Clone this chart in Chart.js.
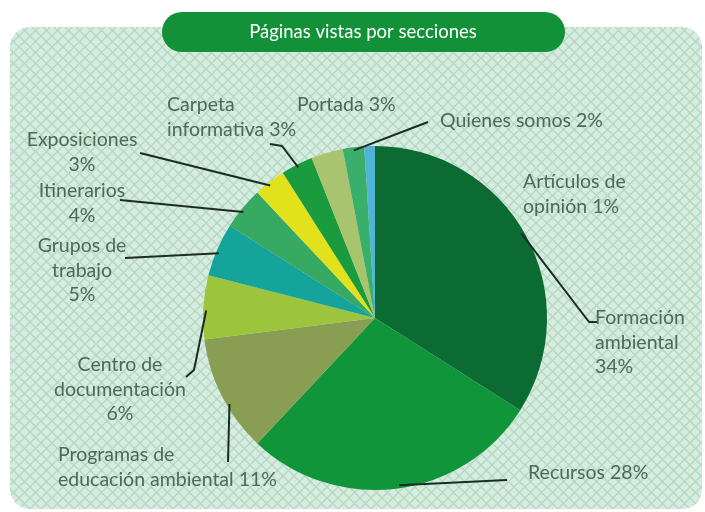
<!DOCTYPE html>
<html>
<head>
<meta charset="utf-8">
<script src="https://cdn.jsdelivr.net/npm/chart.js@4"></script>
<style>
    html, body { margin: 0; padding: 0; background: #ffffff; }
</style>
</head>
<body>
<canvas id="pieChart" width="705" height="512"></canvas>
<script>
// Datos del gráfico
const titulo = 'Páginas vistas por secciones';
const categorias = ['Formación ambiental', 'Recursos', 'Programas de educación ambiental', 'Centro de documentación',
    'Grupos de trabajo', 'Itinerarios', 'Exposiciones', 'Carpeta informativa', 'Portada', 'Quienes somos', 'Artículos de opinión'];
const porcentajes = [34, 28, 11, 6, 5, 4, 3, 3, 3, 2, 1];
const colores = ['#0b6b33', '#11953b', '#8a9e53', '#9cc43c', '#15a49b', '#36a963', '#e1e21c', '#1a9b3e', '#a9c46f', '#3aae6b', '#4fb4d6'];

// Texto de cada etiqueta ({v} = porcentaje)
const textosEtiquetas = [
    ['Formación', 'ambiental', '{v}%'],
    ['Recursos {v}%'],
    ['Programas de', 'educación ambiental {v}%'],
    ['Centro de', 'documentación', '{v}%'],
    ['Grupos de', 'trabajo', '{v}%'],
    ['Itinerarios', '{v}%'],
    ['Exposiciones', '{v}%'],
    ['Carpeta', 'informativa {v}%'],
    ['Portada {v}%'],
    ['Quienes somos {v}%'],
    ['Artículos de', 'opinión {v}%']
];

// Posición de las etiquetas y recorrido de las líneas guía (solo maquetación)
// t = punto del arco donde nace la línea (fracción del sector)
const maqueta = [
    { x: 595, y: 318, align: 'left', t: 0.49, guia: [[589, 322], [597, 322]] },
    { x: 528, y: 473, align: 'left', t: 0.49, guia: [[507, 480]] },
    { x: 58, y: 455, align: 'left', t: 0.41, guia: [[228, 462]] },
    { x: 120, y: 365, align: 'center', t: 0.45, guia: [[194, 370], [186, 377]] },
    { x: 82, y: 246, align: 'center', t: 0.45, guia: [[125, 258]] },
    { x: 82, y: 191, align: 'center', t: 0.45, guia: [[120, 200]] },
    { x: 82, y: 140, align: 'center', t: 0.45, guia: [[140, 153]] },
    { x: 167, y: 105, align: 'left', t: 0.5, guia: [[282, 146], [270, 144]] },
    { x: 297, y: 105, align: 'left', t: 0.5, guia: null },
    { x: 440, y: 121, align: 'left', t: 0.5, guia: [[428, 122]] },
    { x: 523, y: 182, align: 'left', t: 0.5, guia: null }
];

const fuente = '19.5px Lato, "Open Sans", sans-serif';

// Fondo con trama y título
const fondoPlugin = {
    id: 'fondo',
    beforeDraw(chart) {
        const c = chart.ctx;
        c.save();
        c.beginPath();
        c.roundRect(10, 27, 692, 482, 20);
        c.fillStyle = '#d6ecdf';
        c.fill();
        c.clip();
        c.strokeStyle = '#b3d7c1';
        c.lineWidth = 1.3;
        for (let k = -600; k < 1300; k += 11) {
            c.beginPath(); c.moveTo(k, 0); c.lineTo(k + 512, 512); c.stroke();
            c.beginPath(); c.moveTo(k, 512); c.lineTo(k + 512, 0); c.stroke();
        }
        c.restore();

        // píldora del título
        c.save();
        c.beginPath();
        c.roundRect(162, 12, 403, 40, 20);
        c.fillStyle = '#139139';
        c.fill();
        c.fillStyle = '#ffffff';
        c.font = '18.5px Lato, "Open Sans", sans-serif';
        c.textAlign = 'center';
        c.textBaseline = 'middle';
        c.fillText(titulo, 363, 32);
        c.restore();
    }
};

// Etiquetas con líneas guía
const etiquetasPlugin = {
    id: 'etiquetas',
    afterDatasetsDraw(chart) {
        const c = chart.ctx;
        const arcos = chart.getDatasetMeta(0).data;
        c.save();
        maqueta.forEach((m, i) => {
            const p = arcos[i].getProps(['x', 'y', 'startAngle', 'endAngle', 'outerRadius'], true);
            if (m.guia) {
                const a = p.startAngle + (p.endAngle - p.startAngle) * m.t;
                const r = p.outerRadius - 3;
                c.beginPath();
                c.moveTo(p.x + Math.cos(a) * r, p.y + Math.sin(a) * r);
                m.guia.forEach(pt => c.lineTo(pt[0], pt[1]));
                c.strokeStyle = '#1c2b20';
                c.lineWidth = 2;
                c.lineJoin = 'round';
                c.stroke();
            }
            c.font = fuente;
            c.fillStyle = '#4b6b55';
            c.textAlign = m.align;
            c.textBaseline = 'middle';
            textosEtiquetas[i].forEach((linea, j) => {
                c.fillText(linea.replace('{v}', porcentajes[i]), m.x, m.y + j * 24.5);
            });
        });
        c.restore();
    }
};

const ctx = document.getElementById('pieChart').getContext('2d');
const pieChart = new Chart(ctx, {
    type: 'pie',
    data: {
        labels: categorias,
        datasets: [{
            data: porcentajes,
            backgroundColor: colores,
            borderWidth: 0
        }]
    },
    options: {
        responsive: false,
        animation: false,
        layout: { padding: { top: 146, bottom: 22, left: 100, right: 55 } },
        plugins: {
            legend: { display: false },
            tooltip: { enabled: false }
        }
    },
    plugins: [fondoPlugin, etiquetasPlugin]
});
</script>
</body>
</html>
